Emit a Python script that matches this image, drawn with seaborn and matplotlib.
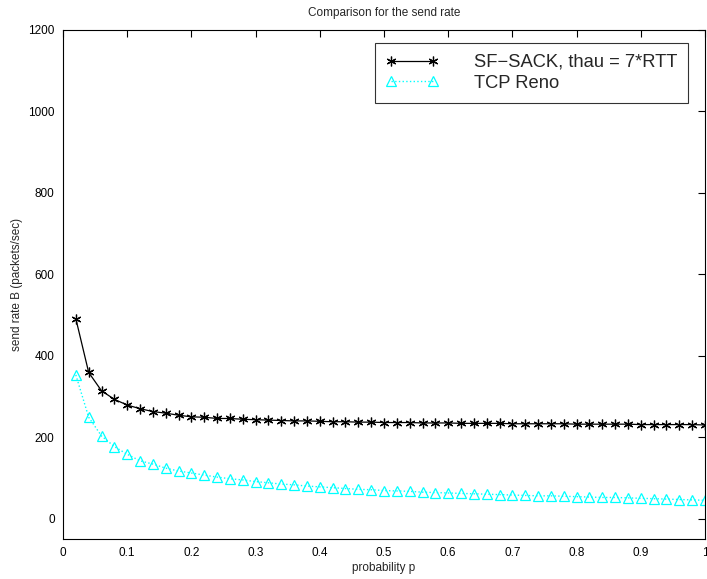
import matplotlib
matplotlib.use("Agg")
import matplotlib.pyplot as plt
import seaborn as sns
import numpy as np
import pandas as pd

p = [round(0.02 * i, 2) for i in range(1, 51)]
sf_sack = [491, 359, 314, 293, 279, 270, 263, 259, 254, 250,
           249, 246, 246, 244, 243, 242, 241, 240, 240, 239,
           238, 238, 237, 237, 236, 236, 236, 235, 235, 235,
           234, 234, 234, 234, 233, 233, 233, 233, 233, 232,
           232, 232, 232, 232, 231, 231, 231, 231, 231, 230]
reno = [353, 249, 203, 177, 158, 142, 134, 124, 117, 112,
        107, 102, 98, 95, 91, 88, 85, 83, 80, 78,
        76, 74, 72, 71, 69, 68, 67, 65, 64, 63,
        62, 61, 60, 59, 58, 57, 56, 56, 55, 54,
        53, 52, 52, 51, 50, 49, 48, 47, 46, 45]
labels = ["SF\u2212SACK, thau = 7*RTT", "TCP Reno"]
xticks = [0, 0.1, 0.2, 0.3, 0.4, 0.5, 0.6, 0.7, 0.8, 0.9, 1]
xticklabels = ["0", "0.1", "0.2", "0.3", "0.4", "0.5", "0.6", "0.7", "0.8", "0.9", "1"]
yticks = [0, 200, 400, 600, 800, 1000, 1200]

sns.set_theme(style="white")
plt.rcParams['font.family'] = ['Liberation Sans', 'DejaVu Sans']

df = pd.DataFrame({"p": p, "sf": sf_sack, "reno": reno})

fig = plt.figure(figsize=(7.07, 5.79), dpi=100)
ax = fig.add_axes([63/707, 1 - 539/579, (705 - 63)/707, (539 - 30)/579])

sns.lineplot(data=df, x="p", y="sf", ax=ax, color="black", linewidth=0.9,
             marker=(6, 2, 0), markersize=7, markeredgewidth=0.9,
             markeredgecolor="black", label=labels[0])
sns.lineplot(data=df, x="p", y="reno", ax=ax, color="#00ffff", linewidth=1,
             linestyle=":", marker="^", markersize=7, markerfacecolor="none",
             markeredgecolor="#00ffff", markeredgewidth=0.9, label=labels[1])

ax.set_xlim(0, 1)
ax.set_ylim(-50, 1200)
ax.set_xticks(xticks)
ax.set_xticklabels(xticklabels)
ax.set_yticks(yticks)
ax.tick_params(direction="in", length=5, width=0.8, top=True, right=True,
               labelsize=8.5, colors="black", pad=6)
for s in ax.spines.values():
    s.set_color("black")
    s.set_linewidth(0.8)
ax.set_xlabel("probability p", fontsize=8.5, labelpad=2)
ax.set_ylabel("send rate B (packets/sec)", fontsize=8.5, labelpad=4)
ax.set_title("Comparison for the send rate", fontsize=8.5, pad=10)

leg = ax.legend(loc="upper right", fontsize=13.2, frameon=True, fancybox=False,
                edgecolor="black", borderpad=0.6, handlelength=2.9,
                handletextpad=1.9, numpoints=2, labelspacing=0.2,
                borderaxespad=0, bbox_to_anchor=(0.9735, 0.9745))
leg.get_frame().set_linewidth(0.8)

fig.savefig("out.png", dpi=100)
